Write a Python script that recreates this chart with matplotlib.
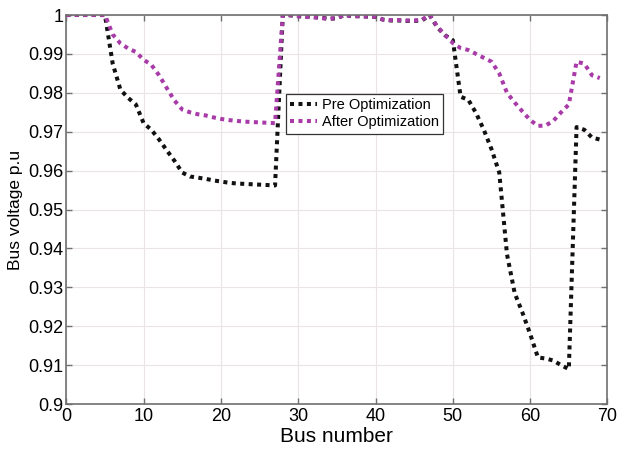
import numpy as np
import matplotlib
matplotlib.use("Agg")
import matplotlib.pyplot as plt

# bus index along the feeder
bus = np.arange(0, 70)

# per-unit voltage before optimization
v_pre = [
    1.0000, 1.0000, 1.0000, 1.0000, 1.0000, 1.0000, 0.9875, 0.9808, 0.9787, 0.9770,
    0.9722, 0.9705, 0.9680, 0.9652, 0.9625, 0.9595, 0.9585, 0.9582, 0.9579, 0.9575,
    0.9572, 0.9569, 0.9567, 0.9566, 0.9565, 0.9564, 0.9563, 0.9562, 1.0000, 0.9999,
    0.9997, 0.9996, 0.9995, 0.9993, 0.9990, 0.9992, 1.0000, 0.9997, 0.9997, 0.9996,
    0.9995, 0.9988, 0.9986, 0.9986, 0.9985, 0.9985, 0.9986, 1.0000, 0.9968, 0.9948,
    0.9935, 0.9790, 0.9782, 0.9748, 0.9705, 0.9655, 0.9595, 0.9385, 0.9285, 0.9235,
    0.9180, 0.9120, 0.9117, 0.9112, 0.9100, 0.9090, 0.9712, 0.9705, 0.9685, 0.9680,
]

# per-unit voltage after optimization
v_after = [
    1.0000, 1.0000, 1.0000, 1.0000, 1.0000, 1.0000, 0.9950, 0.9927, 0.9914, 0.9905,
    0.9885, 0.9872, 0.9845, 0.9812, 0.9780, 0.9757, 0.9750, 0.9745, 0.9742, 0.9737,
    0.9733, 0.9730, 0.9728, 0.9726, 0.9725, 0.9724, 0.9723, 0.9722, 1.0000, 1.0000,
    0.9997, 0.9995, 0.9994, 0.9992, 0.9990, 0.9993, 1.0000, 0.9997, 0.9997, 0.9996,
    0.9995, 0.9988, 0.9987, 0.9987, 0.9986, 0.9986, 0.9988, 1.0000, 0.9970, 0.9948,
    0.9928, 0.9915, 0.9910, 0.9900, 0.9890, 0.9880, 0.9850, 0.9800, 0.9775, 0.9752,
    0.9730, 0.9715, 0.9716, 0.9728, 0.9750, 0.9770, 0.9880, 0.9875, 0.9845, 0.9838,
]

x_ticks = np.arange(0, 71, 10)
y_ticks = np.round(np.arange(0.90, 1.0001, 0.01), 2)
y_tick_labels = ["0.9", "0.91", "0.92", "0.93", "0.94", "0.95",
                 "0.96", "0.97", "0.98", "0.99", "1"]

plt.rcParams["font.family"] = ["Liberation Sans", "DejaVu Sans"]

fig = plt.figure(figsize=(6.18, 4.51), dpi=100)
ax = fig.add_axes([0.1073, 0.104, 0.8757, 0.8627])

dots = (0, (1, 1.1))
ax.plot(bus, v_pre, color="#111111", linewidth=2.9, linestyle=dots,
        label="Pre Optimization")
ax.plot(bus, v_after, color="#a93ba9", linewidth=2.9, linestyle=dots,
        label="After Optimization")

ax.set_xlim(0, 70)
ax.set_ylim(0.9, 1.0)
ax.set_xticks(x_ticks)
ax.set_yticks(y_ticks)
ax.set_yticklabels(y_tick_labels)

ax.grid(True, color="#ebe4e4", linewidth=0.8)
ax.set_axisbelow(True)
for side in ax.spines.values():
    side.set_color("#707070")
    side.set_linewidth(1.2)
ax.tick_params(axis="both", direction="in", length=4, width=1,
               color="#707070", top=True, right=True, labelsize=13)
ax.tick_params(axis="y", pad=2)
ax.tick_params(axis="x", pad=3)

ax.set_xlabel("Bus number", fontsize=15, labelpad=1)
ax.set_ylabel("Bus voltage p.u", fontsize=12.5, labelpad=4)

leg = ax.legend(loc="upper left", bbox_to_anchor=(0.406, 0.797),
                borderaxespad=0, fontsize=10.5, handlelength=1.8,
                handletextpad=0.35, borderpad=0.3, labelspacing=0.2,
                fancybox=False, framealpha=1)
leg.get_frame().set_edgecolor("#333333")
leg.get_frame().set_linewidth(0.9)

fig.savefig("out.png", dpi=100)
